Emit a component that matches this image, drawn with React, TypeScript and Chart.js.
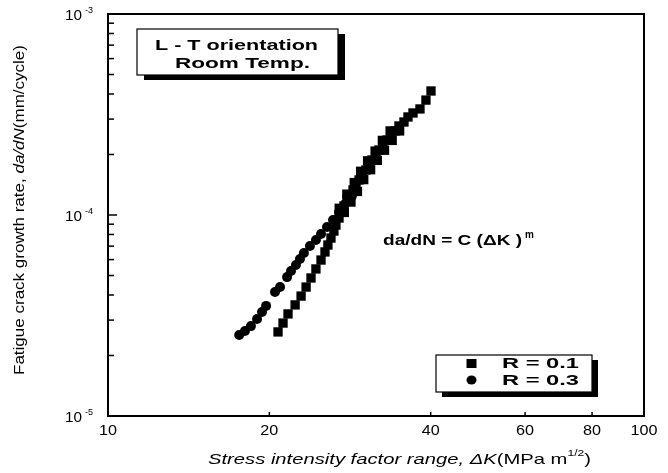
import React, { useEffect, useRef } from "react";
import { Chart, registerables } from "chart.js";

Chart.register(...registerables);

// R = 0.1 (squares)
const r01DeltaK = [
  20.76, 21.21, 21.67, 22.34, 22.92, 23.42, 23.92, 24.43, 24.97, 25.4, 25.72, 26.06, 26.39, 26.62,
  26.98, 27.21, 27.56, 27.92, 28.28, 28.65, 29.02, 29.4, 29.78, 30.29, 30.69, 31.08, 31.62, 32.03,
  32.58, 33.15, 33.73, 34.3, 34.9, 35.66, 36.28, 37.07, 38.2, 39.19, 40.05,
  27.6, 28.4, 29.2, 30.0, 30.9, 31.8, 32.8, 33.9, 35.0,
  27.0, 27.9, 28.8, 29.6, 30.5, 31.5, 32.5, 33.6,
];
const r01Rate = [
  2.62e-5, 2.9e-5, 3.22e-5, 3.57e-5, 3.95e-5, 4.38e-5, 4.86e-5, 5.39e-5, 5.97e-5, 6.55e-5, 7.09e-5,
  7.68e-5, 8.32e-5, 8.91e-5, 9.66e-5, 1.035e-4, 1.109e-4, 1.188e-4, 1.258e-4, 1.332e-4, 1.411e-4,
  1.494e-4, 1.582e-4, 1.675e-4, 1.774e-4, 1.878e-4, 1.989e-4, 2.106e-4, 2.23e-4, 2.361e-4, 2.5e-4,
  2.618e-4, 2.772e-4, 2.902e-4, 3.074e-4, 3.218e-4, 3.37e-4, 3.73e-4, 4.14e-4,
  1.03e-4, 1.16e-4, 1.31e-4, 1.5e-4, 1.68e-4, 1.87e-4, 2.1e-4, 2.35e-4, 2.62e-4,
  1.08e-4, 1.27e-4, 1.45e-4, 1.65e-4, 1.86e-4, 2.08e-4, 2.35e-4, 2.62e-4,
];

// R = 0.3 (circles)
const r03DeltaK = [
  17.57, 18.01, 18.48, 18.97, 19.38, 19.72, 20.49, 20.94, 21.58, 21.95, 22.42, 22.81, 23.2, 23.81,
  24.43, 24.97, 25.62, 26.29, 26.98, 27.68, 28.5,
];
const r03Rate = [
  2.53e-5, 2.65e-5, 2.8e-5, 3.04e-5, 3.29e-5, 3.53e-5, 4.14e-5, 4.38e-5, 4.91e-5, 5.26e-5, 5.64e-5,
  6.04e-5, 6.47e-5, 7.01e-5, 7.51e-5, 8.04e-5, 8.72e-5, 9.44e-5, 1.035e-4, 1.135e-4, 1.24e-4,
];

const xTickValues = [10, 20, 40, 60, 80, 100];
const xTickMarks = [20, 40, 60, 80];
const yMajorExponents = [-3, -4, -5];
const legendLabels = ["R = 0.1", "R = 0.3"];
const infoLines = ["L - T orientation", "Room Temp."];

const FONT = "'Liberation Sans', Arial, sans-serif";

type Seg = { t: string; f: string; dy?: number };

// draw segments horizontally stretched to a target width (starting at x0)
function drawStretch(ctx: CanvasRenderingContext2D, segs: Seg[], x0: number, y: number, target: number) {
  let natural = 0;
  for (const s of segs) {
    ctx.font = s.f;
    natural += ctx.measureText(s.t).width;
  }
  const k = target / natural;
  ctx.save();
  ctx.translate(x0, y);
  ctx.scale(k, 1);
  ctx.textAlign = "left";
  let x = 0;
  for (const s of segs) {
    ctx.font = s.f;
    ctx.fillText(s.t, x, s.dy || 0);
    x += ctx.measureText(s.t).width;
  }
  ctx.restore();
  return x0 + target;
}

const overlay = {
  id: "overlay",
  afterDraw(chart: any) {
    const ctx = chart.ctx as CanvasRenderingContext2D;
    const { left, top, right, bottom } = chart.chartArea;
    const xs = chart.scales.x;
    const ys = chart.scales.y;
    ctx.save();
    ctx.fillStyle = "#000";
    ctx.strokeStyle = "#000";

    // frame
    ctx.lineWidth = 2;
    ctx.strokeRect(left, top, right - left, bottom - top);

    // y ticks (inside, left)
    ctx.lineWidth = 1.5;
    for (let e = -5; e < -3; e++) {
      for (let m = 1; m <= 9; m++) {
        const v = m * Math.pow(10, e);
        const py = ys.getPixelForValue(v);
        const len = m === 1 ? 9 : 6;
        ctx.beginPath();
        ctx.moveTo(left, py);
        ctx.lineTo(left + len, py);
        ctx.stroke();
      }
    }
    // x ticks (inside, bottom)
    for (const v of xTickMarks) {
      const px = xs.getPixelForValue(v);
      ctx.beginPath();
      ctx.moveTo(px, bottom);
      ctx.lineTo(px, bottom - 4);
      ctx.stroke();
    }

    // x tick labels
    ctx.textBaseline = "middle";
    for (const v of xTickValues) {
      const s = String(v);
      const px = xs.getPixelForValue(v);
      const tw = s.length * 9;
      drawStretch(ctx, [{ t: s, f: `14px ${FONT}` }], px - tw / 2, bottom + 15, tw);
    }

    // y tick labels 10^e
    for (const e of yMajorExponents) {
      const py = ys.getPixelForValue(Math.pow(10, e));
      drawStretch(ctx, [{ t: "10", f: `14px ${FONT}` }], left - 43, py + 2, 17);
      ctx.font = `9px ${FONT}`;
      ctx.textAlign = "left";
      ctx.fillText("-" + String(-e), left - 23, py - 3);
    }

    // info box
    const bx = 137, by = 29, bw = 201, bh = 46;
    ctx.fillRect(bx + 7, by + 5, bw, bh);
    ctx.fillStyle = "#fff";
    ctx.fillRect(bx, by, bw, bh);
    ctx.fillStyle = "#000";
    ctx.lineWidth = 1.2;
    ctx.strokeRect(bx, by, bw, bh);
    ctx.textBaseline = "middle";
    drawStretch(ctx, [{ t: infoLines[0], f: `bold 15px ${FONT}` }], 155, 46, 163);
    drawStretch(ctx, [{ t: infoLines[1], f: `bold 15px ${FONT}` }], 175, 64, 135);

    // equation
    const endEq = drawStretch(ctx, [{ t: "da/dN = C (\u0394K )", f: `bold 14px ${FONT}` }], 383, 241, 139);
    ctx.font = `bold 10px ${FONT}`;
    ctx.textAlign = "left";
    ctx.fillText("m", endEq + 3, 235);

    // legend box
    const lx = 436, ly = 355, lw = 156, lh = 37;
    ctx.fillRect(lx + 6, ly + 5, lw, lh);
    ctx.fillStyle = "#fff";
    ctx.fillRect(lx, ly, lw, lh);
    ctx.fillStyle = "#000";
    ctx.strokeRect(lx, ly, lw, lh);
    ctx.fillRect(466.5, 359, 10, 9);
    ctx.beginPath();
    ctx.ellipse(471.5, 380, 5, 4.5, 0, 0, Math.PI * 2);
    ctx.fill();
    drawStretch(ctx, [{ t: legendLabels[0], f: `bold 15px ${FONT}` }], 502, 364, 77);
    drawStretch(ctx, [{ t: legendLabels[1], f: `bold 15px ${FONT}` }], 502, 381, 77);

    // y title (rotated)
    ctx.save();
    ctx.translate(20, 210);
    ctx.rotate(-Math.PI / 2);
    ctx.textBaseline = "middle";
    drawStretch(
      ctx,
      [
        { t: "Fatigue crack growth rate, ", f: `15px ${FONT}` },
        { t: "da/dN", f: `italic 15px ${FONT}` },
        { t: "(mm/cycle)", f: `15px ${FONT}` },
      ],
      -165,
      0,
      330
    );
    ctx.restore();

    // x title
    ctx.textBaseline = "middle";
    drawStretch(
      ctx,
      [
        { t: "Stress intensity factor range, \u0394K", f: `italic 15px ${FONT}` },
        { t: "(MPa m", f: `15px ${FONT}` },
        { t: "1/2", f: `9px ${FONT}`, dy: -6 },
        { t: ")", f: `15px ${FONT}` },
      ],
      208,
      460,
      383
    );

    ctx.restore();
  },
};

export default function App() {
  const ref = useRef<HTMLCanvasElement>(null);
  useEffect(() => {
    document.body.style.margin = "0";
    const canvas = ref.current!;
    const chart = new Chart(canvas, {
      type: "scatter",
      data: {
        datasets: [
          {
            label: legendLabels[0],
            data: r01DeltaK.map((k, i) => ({ x: k, y: r01Rate[i] })),
            pointStyle: "rect",
            pointRadius: 6.6,
            backgroundColor: "#000",
            borderColor: "#000",
            borderWidth: 0,
          },
          {
            label: legendLabels[1],
            data: r03DeltaK.map((k, i) => ({ x: k, y: r03Rate[i] })),
            pointStyle: "circle",
            pointRadius: 5,
            backgroundColor: "#000",
            borderColor: "#000",
            borderWidth: 0,
          },
        ],
      },
      options: {
        animation: false,
        responsive: false,
        maintainAspectRatio: false,
        devicePixelRatio: 1,
        layout: { padding: { left: 108, top: 14, right: 24, bottom: 57 } },
        plugins: { legend: { display: false }, tooltip: { enabled: false } },
        scales: {
          x: {
            type: "logarithmic",
            min: 10,
            max: 100,
            ticks: { display: false },
            grid: { display: false, drawTicks: false },
            border: { display: false },
          },
          y: {
            type: "logarithmic",
            min: 1e-5,
            max: 1e-3,
            ticks: { display: false },
            grid: { display: false, drawTicks: false },
            border: { display: false },
          },
        },
      },
      plugins: [overlay],
    });
    return () => chart.destroy();
  }, []);
  return (
    <div style={{ width: 668, height: 473, background: "#fff" }}>
      <canvas ref={ref} width={668} height={473} style={{ display: "block" }} />
    </div>
  );
}
